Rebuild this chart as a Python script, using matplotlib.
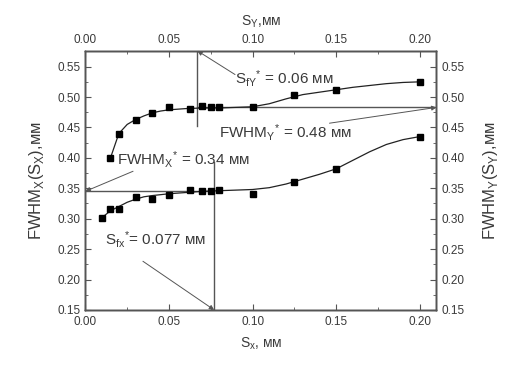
import numpy as np
import matplotlib
matplotlib.use('Agg')
import matplotlib.pyplot as plt
from matplotlib.ticker import MultipleLocator

plt.rcParams['font.family'] = ['Liberation Sans', 'DejaVu Sans']
plt.rcParams['mathtext.fontset'] = 'custom'
plt.rcParams['mathtext.rm'] = 'Liberation Sans'
plt.rcParams['mathtext.it'] = 'Liberation Sans:italic'
plt.rcParams['mathtext.bf'] = 'Liberation Sans:bold'

C_TXT  = '#3a3a3a'
C_AX   = '#555555'
C_LINE = '#222222'

# ── measured points ───────────────────────────────────────────────────────────
sy_pts    = [0.015, 0.02, 0.03, 0.04, 0.05, 0.0625, 0.07, 0.075, 0.08, 0.10, 0.125, 0.15, 0.20]
fwhmy_pts = [0.400, 0.439, 0.462, 0.473, 0.483, 0.480, 0.486, 0.483, 0.483, 0.483, 0.504, 0.512, 0.525]

sx_pts    = [0.01, 0.015, 0.02, 0.03, 0.04, 0.05, 0.0625, 0.07, 0.075, 0.08, 0.10, 0.125, 0.15, 0.20]
fwhmx_pts = [0.301, 0.316, 0.316, 0.336, 0.333, 0.339, 0.347, 0.346, 0.346, 0.347, 0.341, 0.360, 0.382, 0.435]

# ── fitted curves ─────────────────────────────────────────────────────────────
fit_y_x = [0.015, 0.02, 0.025, 0.03, 0.035, 0.04, 0.045, 0.05, 0.06, 0.07, 0.08, 0.09, 0.10,
           0.11, 0.12, 0.13, 0.14, 0.15, 0.16, 0.17, 0.18, 0.19, 0.20]
fit_y_y = [0.400, 0.440, 0.455, 0.463, 0.469, 0.474, 0.477, 0.479, 0.481, 0.482, 0.482, 0.483,
           0.484, 0.489, 0.497, 0.504, 0.508, 0.512, 0.516, 0.519, 0.522, 0.524, 0.525]

fit_x_x = [0.01, 0.015, 0.02, 0.025, 0.03, 0.035, 0.04, 0.05, 0.06, 0.07, 0.08, 0.09, 0.10,
           0.11, 0.12, 0.13, 0.14, 0.15, 0.16, 0.17, 0.18, 0.19, 0.20]
fit_x_y = [0.302, 0.313, 0.320, 0.327, 0.332, 0.336, 0.338, 0.341, 0.343, 0.345, 0.346, 0.347,
           0.348, 0.351, 0.357, 0.365, 0.373, 0.382, 0.396, 0.410, 0.422, 0.430, 0.435]

# ── characteristic values ─────────────────────────────────────────────────────
SFY_STAR   = 0.067   # drawn position of S_fY*
FWHMY_STAR = 0.483
SFX_STAR   = 0.077
FWHMX_STAR = 0.345

X_LIM = (0, 0.21)
Y_LIM = (0.15, 0.576)

fig = plt.figure(figsize=(5.24, 3.85), dpi=100)
ax = fig.add_axes([0.163, 0.195, 0.670, 0.673])

ax.plot(fit_y_x, fit_y_y, color=C_LINE, lw=0.9, zorder=3)
ax.plot(fit_x_x, fit_x_y, color=C_LINE, lw=0.9, zorder=3)
ax.plot(sy_pts, fwhmy_pts, 's', color='black', ms=5, zorder=4)
ax.plot(sx_pts, fwhmx_pts, 's', color='black', ms=5, zorder=4)

# guide lines
ax.plot([SFY_STAR, SFY_STAR], [0.452, Y_LIM[1]], color=C_AX, lw=1.0, zorder=2)
ax.plot([SFY_STAR, X_LIM[1]], [FWHMY_STAR, FWHMY_STAR], color=C_AX, lw=1.0, zorder=2)
ax.plot([SFX_STAR, SFX_STAR], [Y_LIM[0], 0.394], color=C_AX, lw=1.0, zorder=2)
ax.plot([X_LIM[0], SFX_STAR], [FWHMX_STAR, FWHMX_STAR], color=C_AX, lw=1.0, zorder=2)

arrow = dict(arrowstyle='-|>', color=C_AX, lw=0.7, mutation_scale=7,
             shrinkA=0, shrinkB=0)
fs_ann = 11

ax.annotate('', xy=(SFY_STAR, Y_LIM[1]), xytext=(0.0895, 0.537), arrowprops=arrow)
ax.text(0.0895, 0.530, r'$\mathregular{S_{fY}{}^{*}}$ = 0.06 мм', fontsize=fs_ann,
        color=C_TXT, va='center', ha='left')

ax.annotate('', xy=(X_LIM[1], FWHMY_STAR), xytext=(0.146, 0.457), arrowprops=arrow)
ax.text(0.080, 0.441, r'$\mathregular{FWHM_{Y}{}^{*}}$ = 0.48 мм', fontsize=fs_ann,
        color=C_TXT, va='center', ha='left')

ax.annotate('', xy=(X_LIM[0], FWHMX_STAR), xytext=(0.0285, 0.378), arrowprops=arrow)
ax.text(0.019, 0.397, r'$\mathregular{FWHM_{X}{}^{*}}$ = 0.34 мм', fontsize=fs_ann,
        color=C_TXT, va='center', ha='left')

ax.annotate('', xy=(SFX_STAR, Y_LIM[0]), xytext=(0.0344, 0.230), arrowprops=arrow)
ax.text(0.012, 0.266, r'$\mathregular{S_{fx}{}^{*}}$= 0.077 мм', fontsize=fs_ann,
        color=C_TXT, va='center', ha='left')

# ── axes styling ──────────────────────────────────────────────────────────────
def style(a):
    for s in a.spines.values():
        s.set_edgecolor(C_AX)
        s.set_linewidth(1.0)
    a.tick_params(which='both', direction='in', colors=C_AX, labelcolor=C_TXT,
                  labelsize=8.5)
    a.tick_params(which='major', length=4)
    a.tick_params(which='minor', length=2.5)

ax.set_xlim(*X_LIM)
ax.set_ylim(*Y_LIM)
ax.xaxis.set_major_locator(MultipleLocator(0.05))
ax.xaxis.set_minor_locator(MultipleLocator(0.025))
ax.yaxis.set_major_locator(MultipleLocator(0.05))
ax.yaxis.set_minor_locator(MultipleLocator(0.025))
ax.xaxis.set_major_formatter(lambda v, p: f'{v:.2f}')
ax.yaxis.set_major_formatter(lambda v, p: f'{v:.2f}')
style(ax)
ax.tick_params(axis='x', pad=4.5)
ax.set_xlabel(r'$\mathregular{S_x}$, мм', fontsize=10, color=C_TXT, labelpad=5)
ax.set_ylabel(r'$\mathregular{FWHM_X\left(S_X\right)}$,мм', fontsize=12, color=C_TXT,
              labelpad=8)

ax_top = ax.twiny()
ax_top.set_xlim(*X_LIM)
ax_top.xaxis.set_major_locator(MultipleLocator(0.05))
ax_top.xaxis.set_minor_locator(MultipleLocator(0.025))
ax_top.xaxis.set_major_formatter(lambda v, p: f'{v:.2f}')
style(ax_top)
ax_top.set_xlabel(r'$\mathregular{S_Y}$,мм', fontsize=10, color=C_TXT, labelpad=6)

ax_r = ax.twinx()
ax_r.set_ylim(*Y_LIM)
ax_r.yaxis.set_major_locator(MultipleLocator(0.05))
ax_r.yaxis.set_minor_locator(MultipleLocator(0.025))
ax_r.yaxis.set_major_formatter(lambda v, p: f'{v:.2f}')
style(ax_r)
ax_r.set_ylabel(r'$\mathregular{FWHM_Y\left(S_Y\right)}$,мм', fontsize=12, color=C_TXT,
                labelpad=12)

fig.savefig('out.png', dpi=100, facecolor='white')
